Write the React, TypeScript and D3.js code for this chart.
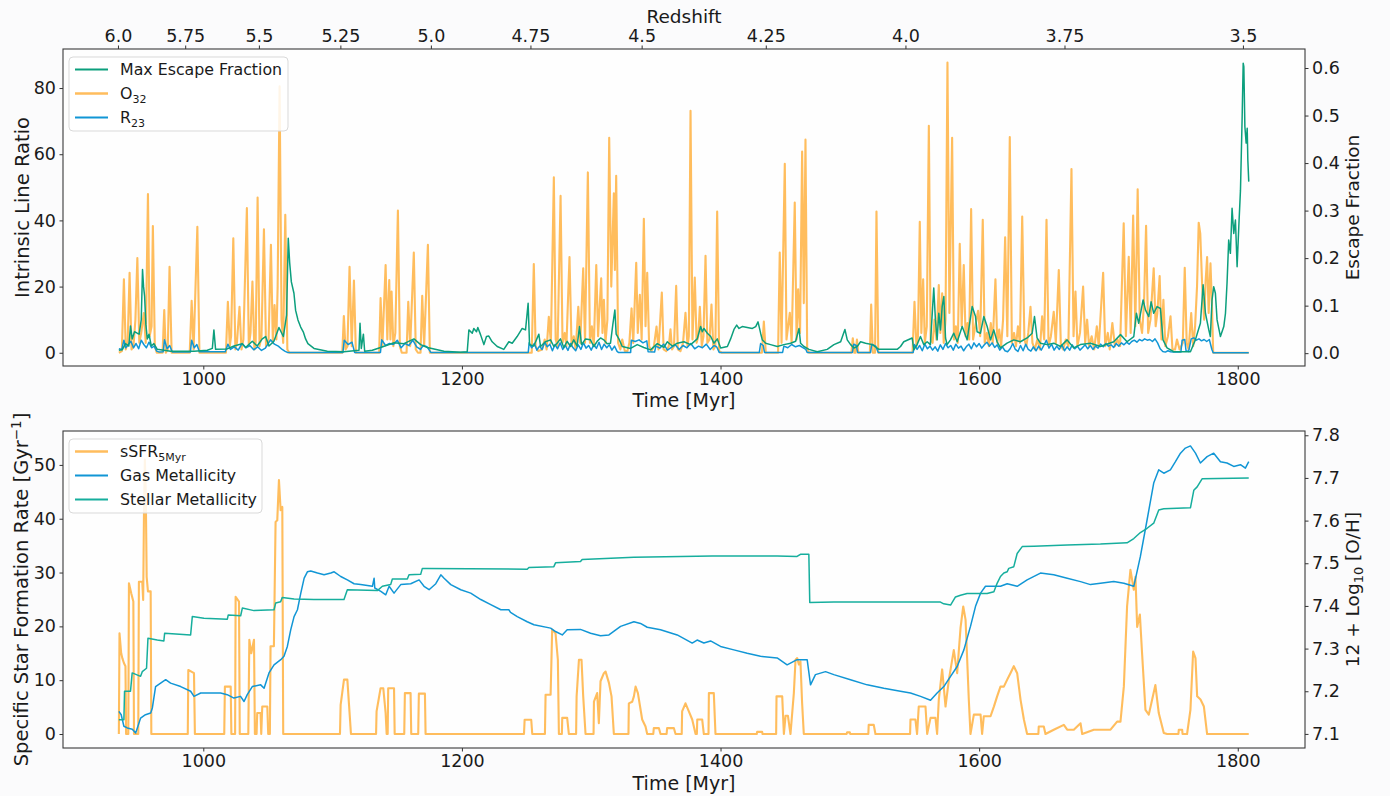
import React, { useEffect, useRef } from "react";
import * as d3 from "d3";

type Pt = [number, number];

// axis ticks
const timeTicks = [1000, 1200, 1400, 1600, 1800];
const redshiftLabels = ["6.0", "5.75", "5.5", "5.25", "5.0", "4.75", "4.5", "4.25", "4.0", "3.75", "3.5"];
const redshiftTimes = [934, 986, 1043, 1106, 1176, 1253, 1339, 1435, 1543, 1666, 1804];
const lineRatioTicks = [0, 20, 40, 60, 80];
const escapeTicks = [0, 0.1, 0.2, 0.3, 0.4, 0.5, 0.6];
const ssfrTicks = [0, 10, 20, 30, 40, 50];
const metalTicks = [7.1, 7.2, 7.3, 7.4, 7.5, 7.6, 7.7, 7.8];

// top panel: O32 line ratio  [time Myr, ratio]
const o32: Pt[] = [
  [934.7, 0], [937, 0.5], [938.6, 22.2], [940, 1], [941.5, 3], [943, 24.2], [944.5, 1], [946, 2], [947.5, 10], [949, 28.6],
  [950.5, 3], [952, 6], [954, 12], [955.5, 3], [957.2, 48], [958.5, 5], [960, 8], [961, 38.3], [962.5, 2], [964, 0],
  [968.5, 0], [969.8, 12.9], [971, 0], [972.5, 1], [973.9, 26], [975.5, 0], [989.5, 0], [991, 15.7], [992.5, 1], [995.4, 38.1],
  [997, 0], [1017.5, 0], [1019, 15.4], [1020.5, 2], [1021.5, 5], [1023.2, 34.6], [1024.8, 1], [1026, 3], [1028, 13.9], [1029.5, 1],
  [1031, 4], [1033.7, 43.7], [1035.2, 2], [1036.5, 6], [1038, 21.5], [1039.5, 1], [1040.5, 3], [1042, 46.9], [1043.5, 2], [1045, 5],
  [1046.9, 37.3], [1048.5, 2], [1050.5, 4], [1052.3, 32.6], [1053.8, 3], [1055.1, 14.4], [1056.5, 4], [1057.5, 20], [1059, 80.5], [1060.5, 10],
  [1061.8, 3], [1063.4, 41.7], [1065, 1], [1066.5, 0],
  [1107.5, 0], [1108.7, 11.1], [1110, 1], [1111.5, 2], [1113.1, 26], [1114.8, 2], [1116.5, 21.8], [1118, 0], [1136, 0], [1137.1, 16.5],
  [1138.5, 2], [1141, 26.5], [1142.3, 4], [1143.8, 22], [1144.7, 4], [1145.6, 18.5], [1147, 2], [1148.5, 6], [1150.5, 43], [1152, 2],
  [1153.5, 0], [1157.2, 0], [1158.5, 15.4], [1160, 2], [1162.8, 30.3], [1164.3, 1], [1166, 0], [1168, 0], [1169.3, 17.2], [1170.8, 2],
  [1173.7, 32.6], [1175.2, 0],
  [1254, 0], [1255.6, 26.8], [1257, 2], [1259, 0.5], [1262, 1], [1264, 4], [1265.5, 1], [1267.2, 10.9], [1268.8, 3], [1271.1, 53],
  [1272.5, 4], [1274, 2], [1276.3, 47.4], [1277.8, 3], [1279.5, 6], [1280.8, 2], [1283.2, 28.9], [1284.8, 2], [1286.5, 5], [1288, 1],
  [1290, 13.9], [1291.5, 3], [1293.8, 25.5], [1295.2, 3], [1297.4, 54.5], [1299, 3], [1300.5, 8], [1302, 2], [1303.9, 26.5], [1305.3, 5],
  [1307.7, 22.5], [1308.7, 6], [1309.8, 16], [1311, 3], [1312.5, 10], [1313.9, 65], [1315.5, 20], [1317.5, 48.2], [1318.3, 25], [1319.3, 53.5],
  [1320.8, 3], [1322.5, 1], [1324, 4], [1326, 0.5], [1328, 0.5], [1329.5, 3], [1331.2, 13.4], [1332.5, 3], [1334.8, 27.2], [1336, 6],
  [1337.6, 17.5], [1339, 4], [1340.7, 40.5], [1342, 8], [1343.3, 24.2], [1344.8, 2], [1346.5, 0.5], [1348.5, 2], [1350.5, 7.9], [1352, 1],
  [1354.6, 18.2], [1356, 1], [1358, 0.5], [1360, 2], [1361.3, 7.1], [1362.5, 1], [1364, 2], [1365.7, 20.2], [1367, 1], [1369, 0.5],
  [1371, 3], [1372.9, 12.1], [1374.5, 2], [1375.5, 5], [1376.8, 73.1], [1378.3, 4], [1380.1, 22.7], [1381.5, 3], [1382.8, 5], [1384, 13.9],
  [1385.5, 2], [1386.8, 5], [1388.4, 29.3], [1389.8, 3], [1391.5, 4], [1393, 14.6], [1394.5, 1], [1396, 2], [1397.4, 42.7], [1398.9, 0.5],
  [1401, 0],
  [1432, 0], [1433.5, 9.4], [1435, 0], [1444.5, 0], [1445.8, 30.3], [1447.2, 3], [1449.7, 57.1], [1451, 4], [1453.6, 12.1], [1455, 3],
  [1457.4, 45.4], [1458.8, 4], [1460, 19.2], [1461.5, 6], [1463.1, 60.8], [1464.4, 15], [1465.7, 64.4], [1467, 1], [1468.5, 0],
  [1501.2, 0], [1502.3, 4.4], [1503.5, 0], [1504.4, 0], [1505.5, 4], [1506.5, 0], [1515.5, 0], [1516.5, 14.6], [1517.8, 0], [1519.5, 0],
  [1520.6, 42.7], [1522, 0],
  [1548.5, 0], [1550, 15.4], [1551.5, 2], [1552.7, 5], [1554.1, 39.6], [1555.3, 6], [1556.7, 22.2], [1558, 3], [1559.5, 8], [1561.1, 68.6],
  [1562.5, 4], [1564, 3], [1565.5, 10], [1567, 4], [1568.8, 20.5], [1570, 6], [1571.4, 18], [1572.6, 3], [1574, 10], [1575.5, 87.7],
  [1577, 12], [1579.1, 65], [1580.5, 4], [1582, 8], [1583.5, 3], [1585, 32.9], [1586.5, 8], [1588.1, 26.5], [1589.5, 5], [1591, 9],
  [1592.3, 4], [1593.8, 43.4], [1595.3, 4], [1597, 8], [1599.2, 12.7], [1600.8, 5], [1602.8, 40.2], [1604.3, 3], [1606, 6], [1607.5, 2],
  [1609, 9], [1610.5, 3], [1612.6, 22.2], [1614, 3], [1615.5, 7], [1617, 2], [1618.5, 10], [1620.1, 34.9], [1621.8, 5], [1623.7, 65.2],
  [1625.3, 3], [1627, 6], [1628.5, 2], [1630, 8], [1631.5, 3], [1633.3, 41.2], [1635, 4], [1636.5, 2], [1638, 6], [1639.7, 13.9],
  [1641.2, 3], [1643, 1], [1645, 4], [1647, 1], [1648.7, 11], [1650.3, 4], [1652.1, 40.2], [1653.7, 2], [1655.5, 5], [1657.7, 12.4],
  [1659.3, 3], [1661.6, 25], [1663.2, 2], [1665, 1], [1667, 4], [1669, 2], [1671.4, 55.5], [1673, 5], [1674.5, 18.5], [1676, 2],
  [1678, 6], [1680.4, 20], [1682, 3], [1683.5, 10], [1685, 2], [1687, 5], [1689, 1], [1691, 8], [1692.5, 2], [1695.9, 24.2],
  [1697.5, 2], [1699.5, 6], [1701, 1], [1703, 9], [1705, 2], [1707, 4], [1709, 2], [1711.8, 39.1], [1713.5, 5], [1715.7, 29],
  [1717.2, 6], [1719.1, 41.5], [1720.8, 8], [1722.6, 49.4], [1724.2, 10], [1726, 6], [1727.5, 15], [1729.1, 38.4], [1730.7, 6], [1732.5, 10],
  [1735, 25.5], [1736.5, 8], [1737.8, 12], [1739.6, 23.2], [1741, 4], [1742.5, 16], [1744, 2], [1746, 5], [1748, 11], [1749.5, 1],
  [1751.5, 1], [1753, 4], [1755, 1], [1757.5, 3], [1759, 25.7], [1760.5, 3], [1762, 1], [1764, 12], [1765.5, 2], [1767, 8],
  [1768.5, 20], [1769.8, 39.3], [1771, 36], [1772.5, 20], [1774, 10], [1775.2, 22], [1776.3, 28.9], [1777.5, 12], [1778.9, 27], [1780, 15],
  [1781, 0], [1808.5, 0],
];

// top panel: R23 line ratio
const r23: Pt[] = [
  [934.7, 1.2], [937, 1], [938.6, 3.8], [940, 1.5], [942, 2.5], [944, 3.5], [946, 1.5], [948, 2.8], [950, 1.2], [952, 3.8],
  [954, 2.5], [956, 1.5], [958, 3.2], [960, 1.5], [962, 2], [964, 0.5], [966, 0.2], [969, 0.3], [970, 3.9], [972, 1.2],
  [974, 2.2], [976, 0.2], [990, 0.2], [991, 3.8], [993, 1.5], [995, 2.5], [997, 0.3], [1017, 0.3], [1019, 2.6], [1021, 1],
  [1024, 1.8], [1027, 0.8], [1030, 2.8], [1033, 1.5], [1036, 2.2], [1039, 0.9], [1042, 1.8], [1045, 0.7], [1048, 1.4], [1052, 3.9],
  [1055, 2.6], [1058, 2], [1061, 1], [1063, 0.5], [1065, 0.1], [1108, 0.1], [1109, 3.8], [1112, 2.5], [1115, 3.2], [1117, 0.1],
  [1137, 0.1], [1138, 3.9], [1141, 2.2], [1144, 2.8], [1147, 2.5], [1150, 3.8], [1153, 1.5], [1156, 2.8], [1159, 2.2], [1162, 3.8],
  [1165, 1.8], [1168, 1], [1170, 2.2], [1173, 1.8], [1176, 0.1], [1251.3, 0.1], [1252, 3], [1254, 1.5], [1256, 2.8], [1258, 0.8],
  [1260, 2], [1262, 1], [1264, 3.2], [1266, 1.8], [1268, 2.6], [1270, 0.6], [1272, 2.5], [1274, 1.2], [1276, 3], [1278, 1],
  [1280, 2.2], [1282, 0.7], [1284, 2.8], [1286, 1.5], [1288, 0.6], [1290, 2.4], [1292, 1], [1294, 3], [1296, 1.4], [1298, 2.2],
  [1300, 0.8], [1302, 2.5], [1304, 1.3], [1306, 3.2], [1308, 1], [1310, 2.6], [1312, 1.5], [1314, 2.4], [1316, 0.8], [1318, 2],
  [1320, 0.4], [1321, 0.1], [1330.5, 0.1], [1331, 3.8], [1334, 3.4], [1337, 3.9], [1340, 3], [1343, 3.6], [1344, 0.3], [1349, 0.2],
  [1350, 2], [1353, 1.4], [1356, 2.6], [1359, 0.8], [1362, 1.6], [1365, 2.4], [1368, 1], [1371, 2.2], [1374, 1.5], [1377, 2.8],
  [1380, 1.2], [1383, 2], [1386, 1.5], [1389, 2.6], [1392, 1], [1395, 2.2], [1397, 1.8], [1399, 0.1], [1430, 0.1], [1431, 2.8],
  [1433, 2.2], [1434, 0.1], [1448, 0.1], [1449, 2], [1452, 1.5], [1455, 2.5], [1458, 1.8], [1461, 2.2], [1464, 1.5], [1466, 1],
  [1467, 0.1], [1502, 0.1], [1503, 2.6], [1505, 2.2], [1506, 0.1], [1516, 0.1], [1517, 2.6], [1520, 2], [1522, 0.1], [1549, 0.1],
  [1550, 2.5], [1552, 1], [1554, 2.2], [1556, 0.6], [1558, 2.6], [1560, 1.2], [1562, 2], [1564, 0.8], [1566, 1.8], [1568, 0.5],
  [1570, 2.4], [1572, 1], [1574, 2.8], [1576, 1.5], [1578, 2.2], [1580, 0.8], [1582, 2.6], [1584, 1.4], [1586, 2], [1588, 0.6],
  [1590, 1.8], [1592, 2.6], [1594, 1.2], [1596, 3], [1598, 1.8], [1600, 2.8], [1602, 1.4], [1604, 2.4], [1606, 3.2], [1608, 2],
  [1610, 3], [1612, 1.6], [1614, 2.4], [1616, 0.8], [1618, 1.8], [1620, 0.6], [1622, 0.3], [1624, 1.2], [1626, 2.8], [1628, 1],
  [1630, 0.4], [1632, 2.2], [1634, 0.6], [1636, 2.6], [1638, 1], [1640, 0.5], [1642, 1.8], [1644, 0.6], [1646, 2], [1648, 0.8],
  [1650, 2.2], [1652, 3.8], [1654, 1.4], [1656, 2.6], [1658, 0.8], [1660, 2], [1662, 1], [1664, 2.4], [1666, 0.6], [1668, 1.8],
  [1670, 0.8], [1672, 2.4], [1674, 1.2], [1676, 2], [1678, 0.8], [1680, 1.6], [1682, 2.4], [1684, 1.2], [1686, 2.2], [1688, 1],
  [1690, 2], [1692, 1.4], [1694, 2.6], [1696, 1.8], [1698, 2.8], [1700, 2], [1702, 2.4], [1704, 1.6], [1706, 2.8], [1708, 2],
  [1710, 3], [1712, 2.4], [1714, 3.2], [1716, 2.6], [1718, 3.4], [1720, 3.8], [1722, 3.2], [1724, 4], [1726, 3.6], [1728, 4.2],
  [1730, 3.8], [1732, 4], [1734, 3.4], [1736, 4.2], [1738, 3], [1740, 1.2], [1742, 0.4], [1744, 0.2], [1746, 0.6], [1748, 0.3],
  [1750, 0.2], [1756, 0.2], [1757, 3.8], [1759, 4], [1760, 0.6], [1762, 0.4], [1764, 4.2], [1766, 4.5], [1768, 3.8], [1770, 4.2],
  [1772, 3.6], [1774, 4], [1776, 3.4], [1778, 4], [1780, 1], [1781, 0], [1808.5, 0],
];

// top panel: maximum escape fraction (right axis)
const fesc: Pt[] = [
  [934.7, 0.006], [937.3, 0.007], [939.8, 0.02], [942.4, 0.015], [943.7, 0.057], [945, 0.03], [946.8, 0.045], [948.9, 0.042], [950.4, 0.04], [952, 0.07],
  [953, 0.176], [953.8, 0.14], [954.6, 0.12], [955.6, 0.06], [956.7, 0.03], [958, 0.04], [959.8, 0.015], [961.8, 0.02], [964.4, 0.008], [969.5, 0.006],
  [974.7, 0.004], [992.8, 0.004], [1003.1, 0.006], [1007, 0.01], [1008.2, 0.049], [1009.5, 0.008], [1018.5, 0.009], [1023.7, 0.015], [1030.1, 0.02], [1032.7, 0.012],
  [1037.9, 0.025], [1041.7, 0.015], [1045.6, 0.03], [1048.2, 0.035], [1050.8, 0.015], [1054.6, 0.025], [1058.5, 0.054], [1061.9, 0.035], [1064.4, 0.08], [1065.7, 0.242],
  [1066.8, 0.19], [1068.1, 0.15], [1070.1, 0.126], [1071.4, 0.09], [1073.2, 0.07], [1075.3, 0.055], [1077.3, 0.045], [1079.1, 0.03], [1080.9, 0.02], [1085.6, 0.01],
  [1095.9, 0.004], [1108.8, 0.003], [1120.4, 0.006], [1121.2, 0.063], [1122.2, 0.01], [1123.8, 0.04], [1124.8, 0.004], [1130.7, 0.006], [1137.1, 0.012], [1147.5, 0.022],
  [1155.2, 0.02], [1162.9, 0.03], [1168.1, 0.018], [1173.3, 0.012], [1186.1, 0.004], [1199, 0.002], [1204.1, 0.003], [1205.4, 0.049], [1208, 0.042], [1209.2, 0.052],
  [1211.3, 0.045], [1212.3, 0.054], [1214.4, 0.039], [1217, 0.018], [1219, 0.035], [1220.8, 0.036], [1223.4, 0.024], [1227.3, 0.014], [1232.4, 0.008], [1236.3, 0.024],
  [1238.9, 0.021], [1242.7, 0.035], [1246.6, 0.052], [1249.2, 0.049], [1251.2, 0.105], [1252.3, 0.018], [1255.6, 0.015], [1259.5, 0.04], [1260.8, 0.014], [1264.6, 0.024],
  [1268.5, 0.028], [1271.1, 0.014], [1273.6, 0.021], [1276.2, 0.03], [1278.8, 0.012], [1281.4, 0.025], [1284, 0.014], [1286.5, 0.028], [1289.1, 0.015], [1290.9, 0.056],
  [1292.5, 0.018], [1295.6, 0.03], [1299.4, 0.028], [1302, 0.014], [1304.6, 0.025], [1307.2, 0.032], [1309.7, 0.028], [1312.3, 0.02], [1314.9, 0.021], [1316.7, 0.06],
  [1318.3, 0.091], [1319.3, 0.04], [1321.4, 0.03], [1324, 0.014], [1330.4, 0.01], [1335.6, 0.018], [1340.7, 0.012], [1345.9, 0.007], [1351.1, 0.02], [1356.2, 0.012],
  [1358.8, 0.024], [1362.7, 0.015], [1366.6, 0.021], [1371.7, 0.024], [1376.9, 0.018], [1382, 0.03], [1384.6, 0.056], [1385.9, 0.045], [1387.2, 0.052], [1389.8, 0.042],
  [1392.4, 0.035], [1394.9, 0.021], [1397.5, 0.03], [1400.1, 0.011], [1405.3, 0.014], [1407.8, 0.03], [1410.4, 0.05], [1412.5, 0.059], [1414.3, 0.052], [1416.8, 0.056],
  [1420.7, 0.054], [1424.6, 0.052], [1427.2, 0.056], [1429, 0.066], [1431, 0.042], [1432.3, 0.028], [1434.9, 0.021], [1438.7, 0.018], [1443.9, 0.014], [1449, 0.018],
  [1454.2, 0.021], [1458.1, 0.025], [1460.7, 0.052], [1461.9, 0.021], [1464.5, 0.014], [1468.4, 0.008], [1474.8, 0.003], [1482.5, 0.008], [1487.7, 0.018], [1492.9, 0.024],
  [1494.9, 0.04], [1496.2, 0.05], [1498, 0.028], [1500.6, 0.018], [1503.2, 0.011], [1505.7, 0.014], [1508.3, 0.024], [1512.2, 0.021], [1517.4, 0.018], [1522.5, 0.008],
  [1536.6, 0.008], [1539.2, 0.014], [1541.7, 0.024], [1548.2, 0.032], [1549.5, 0.007], [1552, 0.018], [1554.6, 0.035], [1557.2, 0.018], [1559.8, 0.024], [1562.3, 0.018],
  [1564.9, 0.137], [1566.2, 0.07], [1567.5, 0.028], [1568.8, 0.084], [1570.1, 0.049], [1571.4, 0.098], [1572.7, 0.119], [1574, 0.032], [1575.2, 0.018], [1577.8, 0.028],
  [1580.4, 0.042], [1583, 0.024], [1586.9, 0.056], [1590.7, 0.028], [1594.6, 0.098], [1597.2, 0.077], [1598.4, 0.045], [1601, 0.042], [1603.6, 0.077], [1606.2, 0.056],
  [1608.8, 0.028], [1611.3, 0.049], [1613.9, 0.024], [1616.5, 0.011], [1621.6, 0.021], [1626.8, 0.028], [1631.9, 0.024], [1637.1, 0.032], [1641, 0.042], [1642.8, 0.077],
  [1644.8, 0.032], [1647.4, 0.021], [1652.5, 0.018], [1657.7, 0.021], [1662.9, 0.014], [1668, 0.028], [1673.2, 0.011], [1678.3, 0.018], [1686.1, 0.021], [1693.8, 0.014],
  [1704.1, 0.024], [1709.3, 0.039], [1714.4, 0.024], [1719.6, 0.035], [1721.6, 0.084], [1723.4, 0.063], [1726.8, 0.112], [1728.6, 0.091], [1731.2, 0.077], [1733, 0.108],
  [1735, 0.084], [1737.6, 0.098], [1740.2, 0.094], [1742.2, 0.028], [1745.3, 0.011], [1750.5, 0.003], [1763.4, 0.003], [1767.2, 0.028], [1771.1, 0.063], [1773.2, 0.144],
  [1775, 0.084], [1777.6, 0.049], [1778.8, 0.035], [1780.1, 0.112], [1781.4, 0.14], [1782.7, 0.126], [1784, 0.07], [1786.6, 0.035], [1789.2, 0.056], [1790.5, 0.084],
  [1791.7, 0.147], [1793, 0.238], [1794.3, 0.21], [1795.6, 0.305], [1796.9, 0.252], [1798.2, 0.28], [1799.5, 0.182], [1800.8, 0.266], [1802.1, 0.343], [1803.4, 0.497],
  [1804.2, 0.61], [1804.7, 0.603], [1805.5, 0.477], [1806.5, 0.442], [1807.3, 0.473], [1807.8, 0.406], [1808.5, 0.361],
];

// bottom panel: specific star formation rate over 5 Myr [Gyr^-1]
const ssfr: Pt[] = [
  [934.7, 0], [935.2, 18.7], [936.5, 15], [937.5, 14], [938.6, 13.2], [939.8, 12.6], [940.3, 0], [942, 0], [942.5, 28], [944.3, 26.1],
  [945.9, 24.6], [946.4, 0], [949.7, 0], [950.2, 28.3], [952.8, 28.3], [953.5, 24.9], [954.1, 40.4], [954.8, 51], [955.5, 45], [956.2, 29.2],
  [957.2, 26.5], [959.3, 26.5], [959.8, 0], [988, 0], [988.4, 11.9], [992.8, 11.3], [993.5, 0], [1016.2, 0], [1016.7, 8.8], [1021.2, 8.8],
  [1021.7, 0], [1024.6, 0], [1025, 25.5], [1027.6, 24.6], [1028.2, 0], [1034.8, 0], [1035.6, 17.5], [1037.1, 15], [1039.2, 17.5], [1039.9, 0],
  [1041.2, 0], [1041.7, 3.9], [1044.3, 3.9], [1044.8, 0], [1045.6, 5.1], [1049.5, 5.1], [1050.2, 0], [1051.5, 0], [1052, 16.3], [1054.6, 16.3],
  [1055.9, 39.4], [1057.2, 39.7], [1058.5, 47.2], [1059.8, 41.6], [1061.1, 42.2], [1061.8, 0], [1105.7, 0], [1106.2, 5.4], [1108.8, 10.1], [1111.4, 10.1],
  [1112.7, 5.4], [1114.2, 0], [1133.6, 0], [1134, 4.2], [1137.1, 8.5], [1139.2, 8.5], [1141, 3.9], [1141.8, 0], [1142.6, 0], [1143, 8.5],
  [1147.5, 8.5], [1148, 0], [1155.4, 0], [1155.9, 7.6], [1160.3, 7.6], [1160.8, 0], [1166.2, 0], [1166.7, 7.5], [1171.4, 7.5], [1171.9, 0],
  [1248, 0], [1248.5, 2.65], [1253.6, 2.65], [1254.4, 0], [1264.2, 0], [1264.7, 7.3], [1268.6, 7.3], [1269.8, 19.4], [1272.4, 18.7], [1274.2, 13.8],
  [1275, 0], [1277.3, 0], [1277.6, 3], [1281.4, 3], [1282.7, 0], [1288.3, 0], [1288.7, 7], [1290.5, 13.8], [1292.5, 13.8], [1293.8, 7],
  [1295.6, 0], [1301.8, 0], [1302.1, 6], [1304.6, 7.6], [1305.9, 2], [1307.2, 9.8], [1309.8, 11.3], [1311.1, 11.6], [1313.7, 9.5], [1315.7, 7],
  [1317.5, 0], [1328.8, 0], [1329.1, 5.7], [1331.7, 6], [1333, 7], [1334.3, 8.8], [1336.1, 7.6], [1339.4, 2.7], [1342, 1.4], [1343.3, 0],
  [1348, 0], [1348.4, 1.1], [1352.3, 1.1], [1353.6, 0], [1358.3, 0], [1358.7, 1.1], [1363.9, 1.1], [1365.2, 0], [1370, 0], [1370.3, 4.2],
  [1372.9, 5.7], [1375.5, 4.2], [1378.1, 2.7], [1380.7, 0], [1381.7, 0], [1382, 2.7], [1385.8, 2.7], [1387.1, 0], [1390.7, 0], [1391, 7.6],
  [1394.8, 7.6], [1396.1, 0], [1428, 0], [1428.3, 0.4], [1432.2, 0.4], [1432.5, 0], [1443, 0], [1443.3, 7], [1447.7, 7], [1449, 0],
  [1450.3, 3.4], [1452.1, 3.4], [1454.1, 0], [1456.7, 7.6], [1458, 13.8], [1459.3, 14.1], [1460.6, 12.9], [1461.8, 13.5], [1463.1, 5.7], [1464.4, 0],
  [1497.5, 0], [1497.9, 0.3], [1500, 0.3], [1500.3, 0], [1514.3, 0], [1514.6, 1.7], [1518.5, 1.7], [1519.8, 0], [1546.6, 0], [1546.9, 2.7],
  [1550.7, 2.7], [1552, 0], [1553.3, 5.1], [1558.5, 5.1], [1559.8, 0], [1562.4, 3], [1566.2, 3], [1567.5, 0], [1568.8, 6.4], [1571.4, 12],
  [1574, 5.1], [1576.6, 10.1], [1580.4, 15.6], [1583, 11.3], [1585.6, 19.7], [1587.7, 23.7], [1589.5, 21.2], [1592, 6.4], [1593.3, 0], [1595.9, 3.6],
  [1601.1, 3.6], [1602.3, 0], [1603.6, 3.3], [1608.8, 3.3], [1611.4, 5.1], [1613.9, 7], [1616.5, 8.8], [1619.1, 8.8], [1621.7, 10.1], [1624.2, 11.3],
  [1626.8, 12.6], [1629.4, 11.3], [1632, 6.4], [1634.6, 2.7], [1637.1, 0], [1645.8, 0], [1646.1, 1.4], [1650, 1.4], [1651.3, 0], [1657.7, 0.8],
  [1665.5, 1.7], [1668.1, 0.8], [1673.2, 0.8], [1678.4, 2], [1679.7, 0], [1688.7, 0.8], [1701.6, 0.8], [1706.7, 2.3], [1709.3, 2.3], [1711.9, 8.8],
  [1714.4, 23.7], [1717, 30.5], [1719.6, 26.8], [1720.9, 29.2], [1722.2, 19.9], [1724.3, 22.2], [1726, 15], [1728.6, 4.5], [1731.2, 3.6], [1733.8, 6.4],
  [1736.3, 9.1], [1738.9, 3.9], [1742.8, 0.2], [1745.4, 0], [1754.1, 0], [1754.4, 0.8], [1757, 0.8], [1757.3, 0], [1760.8, 0], [1763.4, 4.5],
  [1765.5, 15.3], [1767.3, 14.1], [1768.6, 7], [1771.2, 6.4], [1773.8, 5.1], [1776.3, 0], [1808.5, 0],
];

// bottom panel: gas-phase metallicity 12 + log(O/H)
const gasZ: Pt[] = [
  [934.7, 7.153], [936.5, 7.145], [938.6, 7.118], [941.2, 7.114], [945.1, 7.111], [947.7, 7.102], [949, 7.114], [951.5, 7.137], [955.3, 7.145], [959.3, 7.149],
  [960.6, 7.161], [963.1, 7.211], [967, 7.219], [970.9, 7.227], [974.7, 7.219], [982.5, 7.211], [990.2, 7.2], [992.8, 7.188], [998, 7.196], [1005.7, 7.196],
  [1013.4, 7.196], [1018.5, 7.192], [1023.7, 7.184], [1028.8, 7.188], [1031.5, 7.176], [1034, 7.192], [1037.9, 7.211], [1044.4, 7.215], [1047, 7.207], [1050.8, 7.243],
  [1054.7, 7.262], [1059.9, 7.274], [1062.4, 7.282], [1065, 7.305], [1067.6, 7.344], [1070.2, 7.375], [1072.8, 7.391], [1075.4, 7.43], [1078, 7.465], [1080.5, 7.48],
  [1083.1, 7.482], [1088.3, 7.477], [1093.4, 7.473], [1098.6, 7.477], [1101.2, 7.48], [1106.3, 7.469], [1111.4, 7.461], [1116.6, 7.452], [1121.7, 7.45], [1130.8, 7.446],
  [1132.1, 7.465], [1132.6, 7.442], [1137.3, 7.434], [1141.1, 7.426], [1143.7, 7.446], [1147.5, 7.43], [1152.7, 7.45], [1160.4, 7.452], [1166.9, 7.461], [1170.7, 7.446],
  [1174.6, 7.438], [1179.8, 7.452], [1183.7, 7.473], [1186.2, 7.465], [1191.4, 7.45], [1199.1, 7.438], [1206.8, 7.43], [1214.6, 7.415], [1222.3, 7.403], [1230.1, 7.391],
  [1236.3, 7.391], [1237.6, 7.385], [1242.8, 7.375], [1250.5, 7.363], [1255.7, 7.356], [1268.6, 7.348], [1272.4, 7.34], [1277.6, 7.332], [1281.4, 7.344], [1291.7, 7.345],
  [1299.5, 7.336], [1307.2, 7.33], [1313.7, 7.332], [1322.7, 7.352], [1333, 7.363], [1338.1, 7.359], [1343.3, 7.35], [1353.6, 7.344], [1366.5, 7.332], [1378.1, 7.313],
  [1381.9, 7.32], [1387.1, 7.313], [1392.3, 7.318], [1400, 7.305], [1410.3, 7.297], [1420.6, 7.289], [1430.9, 7.282], [1443.8, 7.278], [1451.5, 7.262], [1459.2, 7.274],
  [1467, 7.274], [1469.6, 7.215], [1473.4, 7.239], [1481.2, 7.246], [1487.6, 7.239], [1500.5, 7.227], [1513.4, 7.215], [1526.3, 7.207], [1539.1, 7.2], [1546.9, 7.196],
  [1554.7, 7.188], [1562.4, 7.179], [1567.5, 7.196], [1572.7, 7.211], [1577.9, 7.235], [1583, 7.258], [1588.2, 7.297], [1593.3, 7.352], [1597.2, 7.399], [1601.1, 7.43],
  [1604.9, 7.446], [1611.4, 7.446], [1616.5, 7.446], [1621.7, 7.452], [1629.4, 7.446], [1637.1, 7.461], [1647.4, 7.477], [1657.7, 7.473], [1668.1, 7.465], [1678.4, 7.457],
  [1686.1, 7.45], [1693.8, 7.453], [1704.1, 7.457], [1711.9, 7.453], [1719.6, 7.446], [1724.7, 7.516], [1729.9, 7.602], [1735, 7.688], [1738.9, 7.719], [1742.8, 7.711],
  [1747.9, 7.719], [1751.8, 7.738], [1755.7, 7.758], [1759.5, 7.77], [1763.4, 7.775], [1767.3, 7.758], [1771.1, 7.735], [1776.3, 7.75], [1781.4, 7.758], [1786.6, 7.738],
  [1791.7, 7.735], [1796.9, 7.727], [1802.1, 7.731], [1805.9, 7.723], [1808.5, 7.738],
];

// bottom panel: stellar metallicity
const starZ: Pt[] = [
  [934.7, 7.133], [938.6, 7.133], [939.1, 7.2], [943.7, 7.2], [945, 7.243], [951.5, 7.235], [952.8, 7.246], [956.1, 7.254], [957.2, 7.324], [964.4, 7.32],
  [969.5, 7.318], [970.1, 7.336], [990.2, 7.332], [991.5, 7.375], [1000.5, 7.371], [1018.6, 7.369], [1019.3, 7.379], [1028.9, 7.377], [1030.2, 7.395], [1039.2, 7.389],
  [1054.7, 7.391], [1056, 7.407], [1059.8, 7.41], [1061.1, 7.42], [1070.2, 7.416], [1085.6, 7.415], [1108.8, 7.415], [1111.4, 7.438], [1134.6, 7.436], [1138.5, 7.446],
  [1144.9, 7.45], [1146.2, 7.463], [1157.8, 7.463], [1159.1, 7.473], [1168.1, 7.474], [1169.4, 7.488], [1173.3, 7.488], [1250.5, 7.486], [1251.8, 7.49], [1271.1, 7.492],
  [1272.4, 7.501], [1291.7, 7.504], [1293, 7.509], [1333, 7.514], [1393.5, 7.517], [1443.8, 7.517], [1459.2, 7.516], [1461.8, 7.521], [1468.3, 7.521], [1469, 7.408],
  [1487.6, 7.409], [1570.1, 7.409], [1572.6, 7.405], [1577.9, 7.402], [1581.7, 7.421], [1585.6, 7.425], [1590.7, 7.429], [1606.2, 7.429], [1611.4, 7.433], [1613.9, 7.453],
  [1616.5, 7.469], [1619.1, 7.477], [1621.7, 7.48], [1622.9, 7.488], [1626.8, 7.492], [1629.4, 7.523], [1633.3, 7.539], [1642.3, 7.54], [1668.1, 7.543], [1693.8, 7.545],
  [1714.4, 7.548], [1719.6, 7.558], [1724.7, 7.572], [1729.9, 7.582], [1735, 7.594], [1738.9, 7.625], [1742.8, 7.628], [1763.4, 7.63], [1766, 7.671], [1768.6, 7.679],
  [1772.4, 7.698], [1808.5, 7.7],
];

const FONT = "DejaVu Sans, Verdana, sans-serif";
const ORANGE = "#ffa41f";
const GREEN = "#0c9f7d";
const BLUE = "#1196d5";
const TEAL = "#16ae9d";

export default function App() {
  const ref = useRef<SVGSVGElement>(null);

  useEffect(() => {
    document.body.style.margin = "0";
    const svg = d3.select(ref.current);
    svg.selectAll("*").remove();

    svg.append("rect").attr("width", 1390).attr("height", 796).attr("fill", "#fbfbfc");

    const x = d3.scaleLinear().domain([891.5, 1852]).range([63, 1305]);

    function panel(y0: number, y1: number, id: string) {
      const g = svg.append("g");
      g.append("rect").attr("x", 63).attr("y", y0).attr("width", 1305 - 63).attr("height", y1 - y0).attr("fill", "#fefefe");
      svg.append("clipPath").attr("id", id).append("rect")
        .attr("x", 63).attr("y", y0).attr("width", 1305 - 63).attr("height", y1 - y0);
      return g;
    }

    function styleAxis(a: any) {
      a.attr("font-family", FONT).attr("font-size", 17.5).attr("color", "#333");
      a.select(".domain").remove();
      a.selectAll("text").attr("fill", "#1a1a1a");
    }

    function drawLine(g: any, data: Pt[], ys: any, color: string, w: number, op: number, clip: string) {
      const line = d3.line<Pt>().x(d => x(d[0])).y(d => ys(d[1]));
      g.append("path").datum(data).attr("d", line).attr("fill", "none")
        .attr("stroke", color).attr("stroke-width", w).attr("stroke-opacity", op)
        .attr("stroke-linejoin", "round").attr("clip-path", `url(#${clip})`);
    }

    function frame(g: any, y0: number, y1: number) {
      g.append("rect").attr("x", 63).attr("y", y0).attr("width", 1305 - 63).attr("height", y1 - y0)
        .attr("fill", "none").attr("stroke", "#3a3a3a").attr("stroke-width", 1.1);
    }

    function legend(g: any, x0: number, y0: number, w: number, items: any[]) {
      g.append("rect").attr("x", x0).attr("y", y0).attr("width", w).attr("height", 74).attr("rx", 4)
        .attr("fill", "#ffffff").attr("fill-opacity", 0.85).attr("stroke", "#d9d9d9");
      items.forEach((it, i) => {
        const cy = y0 + 12.5 + i * 24;
        g.append("line").attr("x1", x0 + 6).attr("x2", x0 + 39).attr("y1", cy).attr("y2", cy)
          .attr("stroke", it.color).attr("stroke-width", it.w).attr("stroke-opacity", it.op);
        const t = g.append("text").attr("x", x0 + 51).attr("y", cy + 5.5)
          .attr("font-family", FONT).attr("font-size", 15.8).attr("fill", "#1a1a1a");
        t.append("tspan").text(it.main);
        if (it.sub) t.append("tspan").attr("dy", 4).attr("font-size", 11).text(it.sub);
      });
    }

    const label = (txt: string, xx: number, yy: number, size: number, rot = 0) =>
      svg.append("text").attr("transform", `translate(${xx},${yy}) rotate(${rot})`)
        .attr("text-anchor", "middle").attr("font-family", FONT).attr("font-size", size).attr("fill", "#1a1a1a").text(txt);

    // ---------- top panel ----------
    const T0 = 49, T1 = 366;
    const yL1 = d3.scaleLinear().domain([-4.0, 91.8]).range([T1, T0]);
    const yR1 = d3.scaleLinear().domain([-0.027, 0.64]).range([T1, T0]);
    const g1 = panel(T0, T1, "clipTop");

    drawLine(g1, o32, yL1, ORANGE, 2.1, 0.72, "clipTop");
    drawLine(g1, r23, yL1, BLUE, 1.5, 1, "clipTop");
    drawLine(g1, fesc, yR1, GREEN, 1.5, 1, "clipTop");

    g1.append("g").attr("transform", `translate(0,${T1})`)
      .call(d3.axisBottom(x).tickValues(timeTicks).tickSize(3.5).tickPadding(3.5).tickFormat(d3.format("d")))
      .call(styleAxis);
    g1.append("g").attr("transform", `translate(0,${T0})`)
      .call(d3.axisTop(x).tickValues(redshiftTimes).tickSize(3.5).tickPadding(3.5).tickFormat((d, i) => redshiftLabels[i]))
      .call(styleAxis);
    g1.append("g").attr("transform", "translate(63,0)")
      .call(d3.axisLeft(yL1).tickValues(lineRatioTicks).tickSize(3.5).tickPadding(3.5).tickFormat(d3.format("d")))
      .call(styleAxis);
    g1.append("g").attr("transform", "translate(1305,0)")
      .call(d3.axisRight(yR1).tickValues(escapeTicks).tickSize(3.5).tickPadding(3.5).tickFormat(d3.format(".1f")))
      .call(styleAxis);
    frame(g1, T0, T1);

    legend(g1, 69, 57, 219, [
      { main: "Max Escape Fraction", color: GREEN, w: 1.8, op: 1 },
      { main: "O", sub: "32", color: ORANGE, w: 2.4, op: 0.72 },
      { main: "R", sub: "23", color: BLUE, w: 1.8, op: 1 },
    ]);

    label("Redshift", 684, 23, 18.5);
    label("Time [Myr]", 684, 407, 19);
    label("Intrinsic Line Ratio", 29, (T0 + T1) / 2, 19.5, -90);
    label("Escape Fraction", 1359, (T0 + T1) / 2, 18.5, -90);

    // ---------- bottom panel ----------
    const B0 = 431, B1 = 748;
    const yL2 = d3.scaleLinear().domain([-2.6, 56.3]).range([B1, B0]);
    const yR2 = d3.scaleLinear().domain([7.067, 7.81]).range([B1, B0]);
    const g2 = panel(B0, B1, "clipBot");

    drawLine(g2, ssfr, yL2, ORANGE, 2.1, 0.72, "clipBot");
    drawLine(g2, gasZ, yR2, BLUE, 1.5, 1, "clipBot");
    drawLine(g2, starZ, yR2, TEAL, 1.5, 1, "clipBot");

    g2.append("g").attr("transform", `translate(0,${B1})`)
      .call(d3.axisBottom(x).tickValues(timeTicks).tickSize(3.5).tickPadding(3.5).tickFormat(d3.format("d")))
      .call(styleAxis);
    g2.append("g").attr("transform", "translate(63,0)")
      .call(d3.axisLeft(yL2).tickValues(ssfrTicks).tickSize(3.5).tickPadding(3.5).tickFormat(d3.format("d")))
      .call(styleAxis);
    g2.append("g").attr("transform", "translate(1305,0)")
      .call(d3.axisRight(yR2).tickValues(metalTicks).tickSize(3.5).tickPadding(3.5).tickFormat(d3.format(".1f")))
      .call(styleAxis);
    frame(g2, B0, B1);

    legend(g2, 69, 439, 193, [
      { main: "sSFR", sub: "5Myr", color: ORANGE, w: 2.4, op: 0.72 },
      { main: "Gas Metallicity", color: BLUE, w: 1.8, op: 1 },
      { main: "Stellar Metallicity", color: TEAL, w: 1.8, op: 1 },
    ]);

    label("Time [Myr]", 684, 790, 19);

    // left label with superscript
    const sl = svg.append("text").attr("transform", `translate(28,${(B0 + B1) / 2}) rotate(-90)`)
      .attr("text-anchor", "middle").attr("font-family", FONT).attr("font-size", 19.5).attr("fill", "#1a1a1a");
    sl.append("tspan").text("Specific Star Formation Rate [Gyr");
    sl.append("tspan").attr("dy", -7).attr("font-size", 13.5).text("\u22121");
    sl.append("tspan").attr("dy", 7).text("]");

    // right label with subscript
    const rl = svg.append("text").attr("transform", `translate(1359,${(B0 + B1) / 2}) rotate(-90)`)
      .attr("text-anchor", "middle").attr("font-family", FONT).attr("font-size", 18.5).attr("fill", "#1a1a1a");
    rl.append("tspan").text("12 + Log");
    rl.append("tspan").attr("dy", 4).attr("font-size", 13).text("10");
    rl.append("tspan").attr("dy", -4).text(" [O/H]");
  }, []);

  return <svg ref={ref} width={1390} height={796} style={{ display: "block" }} />;
}
